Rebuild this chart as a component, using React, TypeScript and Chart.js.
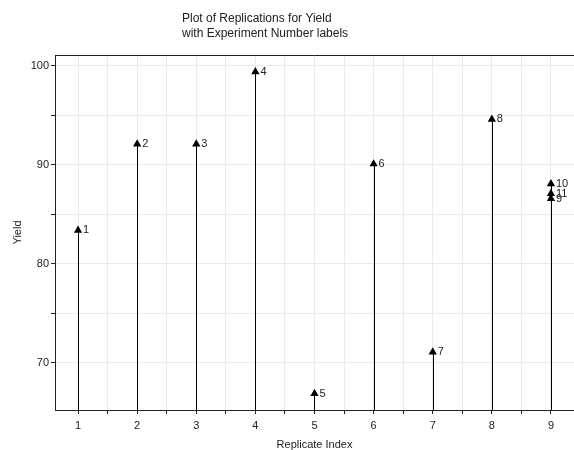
import React, { useEffect, useRef } from "react";
import { Chart, registerables } from "chart.js";

Chart.register(...registerables);

const titleLines = ["Plot of Replications for Yield", "with Experiment Number labels"];
const xAxisTitle = "Replicate Index";
const yAxisTitle = "Yield";

const replicateIndex = [1, 2, 3, 4, 5, 6, 7, 8, 9, 9, 9];
const yieldValues = [83.4, 92.1, 92.1, 99.4, 66.9, 90.1, 71.1, 94.6, 86.6, 88.1, 87.1];
const experimentLabels = ["1", "2", "3", "4", "5", "6", "7", "8", "9", "10", "11"];

const xTickValues = [1, 1.5, 2, 2.5, 3, 3.5, 4, 4.5, 5, 5.5, 6, 6.5, 7, 7.5, 8, 8.5, 9];
const xLabelValues = [1, 2, 3, 4, 5, 6, 7, 8, 9];
const yTickValues = [70, 75, 80, 85, 90, 95, 100];
const yLabelValues = [70, 80, 90, 100];

const xRange = [0.61, 9.39];
const yRange = [65.25, 101.1];

const FONT = "'Liberation Sans', Arial, sans-serif";

export default function App() {
  const ref = useRef<HTMLCanvasElement | null>(null);

  useEffect(() => {
    if (!ref.current) return;

    const decorPlugin = {
      id: "decor",
      beforeDatasetsDraw(chart: any) {
        const { ctx, chartArea, scales } = chart;
        ctx.save();
        ctx.strokeStyle = "#000";
        ctx.lineWidth = 1;
        replicateIndex.forEach((xv, i) => {
          const x = Math.round(scales.x.getPixelForValue(xv)) + 0.5;
          const y = scales.y.getPixelForValue(yieldValues[i]);
          ctx.beginPath();
          ctx.moveTo(x, chartArea.bottom);
          ctx.lineTo(x, y);
          ctx.stroke();
        });
        ctx.restore();
      },
      afterDatasetsDraw(chart: any) {
        const { ctx, chartArea, scales } = chart;
        ctx.save();
        ctx.fillStyle = "#222";
        ctx.font = `11px ${FONT}`;
        ctx.textBaseline = "middle";
        ctx.textAlign = "left";
        replicateIndex.forEach((xv, i) => {
          const x = scales.x.getPixelForValue(xv);
          const y = scales.y.getPixelForValue(yieldValues[i]);
          ctx.fillText(experimentLabels[i], x + 5, y);
        });
        // top frame line
        ctx.strokeStyle = "#222";
        ctx.lineWidth = 1;
        ctx.beginPath();
        ctx.moveTo(chartArea.left, Math.round(chartArea.top) + 0.5);
        ctx.lineTo(chartArea.right, Math.round(chartArea.top) + 0.5);
        ctx.stroke();
        // title
        ctx.fillStyle = "#222";
        ctx.font = `12px ${FONT}`;
        ctx.textBaseline = "alphabetic";
        titleLines.forEach((t, i) => {
          ctx.fillText(t, 182, 22 + i * 15);
        });
        ctx.restore();
      },
    };

    const chart = new Chart(ref.current, {
      type: "scatter",
      data: {
        datasets: [
          {
            data: replicateIndex.map((x, i) => ({ x, y: yieldValues[i] })),
            pointStyle: "triangle",
            radius: 4.8,
            hoverRadius: 4.8,
            backgroundColor: "#000",
            borderColor: "#000",
            borderWidth: 0,
          },
        ],
      },
      options: {
        animation: false,
        responsive: false,
        maintainAspectRatio: false,
        layout: { autoPadding: false, padding: { top: 55, left: 0, right: 0, bottom: 0 } },
        plugins: {
          legend: { display: false },
          tooltip: { enabled: false },
          title: { display: false },
        },
        scales: {
          x: {
            type: "linear",
            min: xRange[0],
            max: xRange[1],
            afterBuildTicks: (s: any) => {
              s.ticks = xTickValues.map((v) => ({ value: v }));
            },
            afterFit: (s: any) => {
              s.height = 40;
              s.paddingLeft = 0;
              s.paddingRight = 0;
            },
            ticks: {
              autoSkip: false,
              maxRotation: 0,
              padding: 5,
              color: "#222",
              font: { family: FONT, size: 11 },
              callback: (v: any) => (xLabelValues.includes(Number(v)) ? String(v) : ""),
            },
            grid: { color: "#ebebeb", tickColor: "#222", tickLength: 4, lineWidth: 1 },
            border: { color: "#222", width: 1 },
            title: {
              display: true,
              text: xAxisTitle,
              color: "#222",
              font: { family: FONT, size: 11 },
              padding: { top: 4, bottom: -2 },
            },
          },
          y: {
            type: "linear",
            min: yRange[0],
            max: yRange[1],
            afterBuildTicks: (s: any) => {
              s.ticks = yTickValues.map((v) => ({ value: v }));
            },
            afterFit: (s: any) => {
              s.width = 55;
              s.paddingTop = 0;
              s.paddingBottom = 0;
            },
            ticks: {
              autoSkip: false,
              padding: 2,
              color: "#222",
              font: { family: FONT, size: 11 },
              callback: (v: any) => (yLabelValues.includes(Number(v)) ? String(v) : ""),
            },
            grid: { color: "#ebebeb", tickColor: "#222", tickLength: 4, lineWidth: 1 },
            border: { color: "#222", width: 1 },
            title: {
              display: true,
              text: yAxisTitle,
              color: "#222",
              font: { family: FONT, size: 11 },
              padding: { top: 11, bottom: 0 },
            },
          },
        },
      },
      plugins: [decorPlugin],
    } as any);

    return () => chart.destroy();
  }, []);

  return (
    <div style={{ position: "absolute", left: 0, top: 0, width: 574, height: 450, background: "#fff" }}>
      <canvas ref={ref} width={574} height={450} style={{ width: 574, height: 450 }} />
    </div>
  );
}
